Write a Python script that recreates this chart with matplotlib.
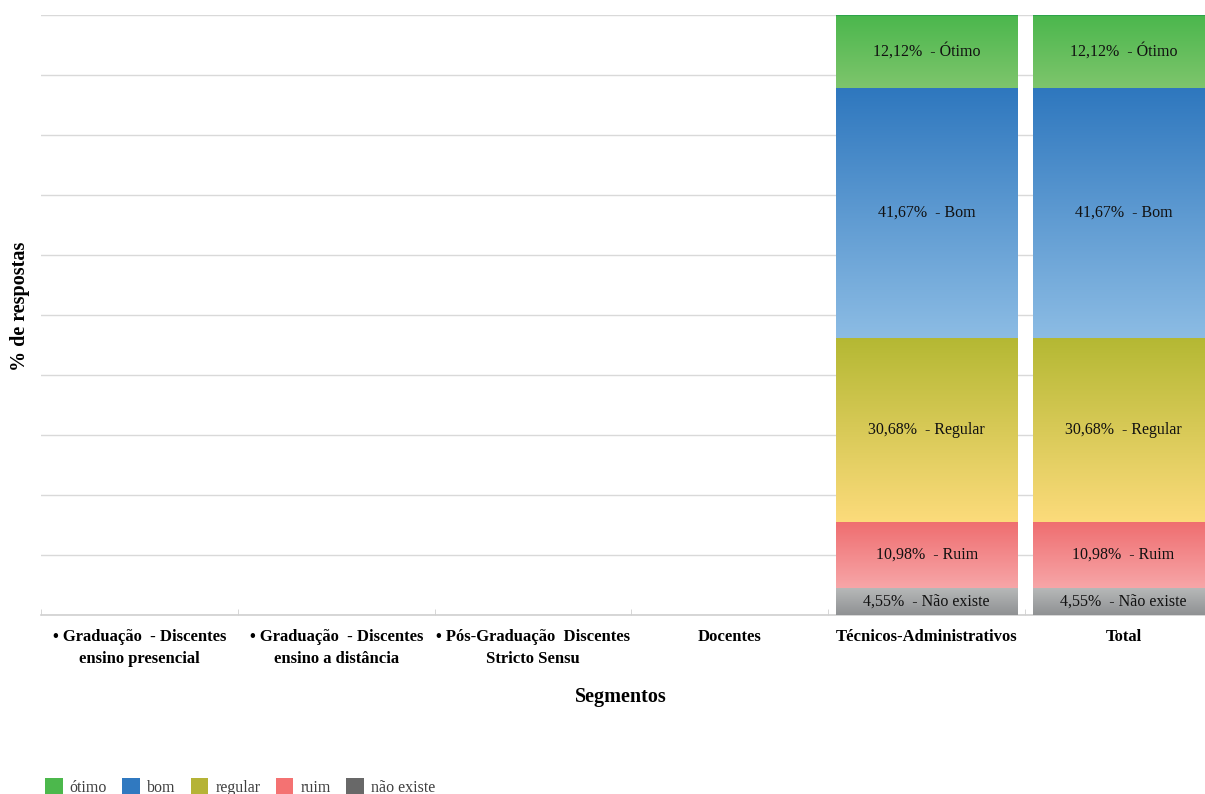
import numpy as np
import matplotlib.pyplot as plt
from matplotlib.colors import LinearSegmentedColormap

plt.rcParams['font.family'] = ['Liberation Serif', 'DejaVu Serif']

categorias = ["• Graduação  - Discentes\nensino presencial",
              "• Graduação  - Discentes\nensino a distância",
              "• Pós-Graduação  Discentes\nStricto Sensu",
              "Docentes",
              "Técnicos-Administrativos",
              "Total"]

# % de respostas por segmento (de baixo para cima)
nao_existe = [0, 0, 0, 0, 4.55, 4.55]
ruim = [0, 0, 0, 0, 10.98, 10.98]
regular = [0, 0, 0, 0, 30.68, 30.68]
bom = [0, 0, 0, 0, 41.67, 41.67]
otimo = [0, 0, 0, 0, 12.12, 12.12]

series = [nao_existe, ruim, regular, bom, otimo]
rotulos = ["Não existe", "Ruim", "Regular", "Bom", "Ótimo"]
legenda = ["não existe", "ruim", "regular", "bom", "ótimo"]

# (cor de baixo, cor de cima) do degradê, cor da legenda
grad = [("#8f9193", "#b8baba"),
        ("#f7a6a8", "#ef6e70"),
        ("#fcdb7b", "#b4b833"),
        ("#8cbce4", "#2e77be"),
        ("#7ec56c", "#4bb74d")]
cor_leg = ["#686868", "#f47272", "#b5b336", "#3079c0", "#4cb84c"]

fig = plt.figure(figsize=(12.05, 7.94), dpi=100)
ax = fig.add_axes([41 / 1205, 179 / 794, 1181 / 1205, 600 / 794])

x = np.arange(len(categorias))
base = np.zeros(len(categorias))
grad_img = np.linspace(0, 1, 256).reshape(-1, 1)
for i, vals in enumerate(series):
    vals = np.array(vals, dtype=float)
    bars = ax.bar(x, vals, width=0.924, bottom=base, color=cor_leg[i],
                  label=legenda[i], zorder=2, linewidth=0)
    cmap = LinearSegmentedColormap.from_list("g%d" % i, list(grad[i]))
    for b, v in zip(bars, vals):
        if v <= 0:
            continue
        x0, y0 = b.get_x(), b.get_y()
        ax.imshow(grad_img, extent=(x0, x0 + b.get_width(), y0, y0 + b.get_height()),
                  origin='lower', cmap=cmap, aspect='auto', zorder=3)
        txt = ("%.2f%%  - %s" % (v, rotulos[i])).replace('.', ',')
        ax.text(b.get_x() + b.get_width() / 2, y0 + v / 2, txt,
                ha='center', va='center', fontsize=11.5, color='#111111', zorder=4)
    base += vals

# linha mais escura no topo do ótimo
for xi, t in zip(x, base):
    if t > 0:
        ax.plot([xi - 0.462, xi + 0.462], [t, t], color='#2ea34a', lw=1.5, zorder=5,
                solid_capstyle='butt')

ax.set_xlim(-0.5, len(categorias) - 0.5)
ax.set_ylim(0, 100)
ax.set_yticks(np.arange(0, 101, 10))
ax.set_yticklabels([])
ax.tick_params(axis='y', length=0)
ax.grid(axis='y', color='#d9d9d9', lw=1, zorder=0)
ax.set_axisbelow(True)
for s in ['top', 'right', 'left']:
    ax.spines[s].set_visible(False)
ax.spines['bottom'].set_color('#d0d0d0')
ax.spines['bottom'].set_linewidth(1.2)

ax.set_xticks(x)
ax.set_xticklabels(categorias, fontsize=12, fontweight='bold', linespacing=1.5)
ax.tick_params(axis='x', length=0, pad=10)
ax.set_xticks(np.arange(-0.5, len(categorias), 1), minor=True)
ax.tick_params(axis='x', which='minor', direction='in', length=4, color='#d0d0d0')

fig.text(621 / 1205, 1 - 697 / 794, "Segmentos", ha='center', va='center',
         fontsize=14.5, fontweight='bold')
fig.text(20 / 1205, 1 - 306 / 794, "% de respostas", ha='center', va='center',
         rotation=90, fontsize=14.5, fontweight='bold')

h, l = ax.get_legend_handles_labels()
leg = fig.legend(h[::-1], l[::-1], loc='center left', bbox_to_anchor=(45 / 1205, 7 / 794),
                 ncol=5, frameon=False, fontsize=11.5, handlelength=1.1, handleheight=1.1,
                 handletextpad=0.45, columnspacing=0.95, borderaxespad=0, borderpad=0)
for t in leg.get_texts():
    t.set_color('#404040')

fig.savefig("out.png", dpi=100)
